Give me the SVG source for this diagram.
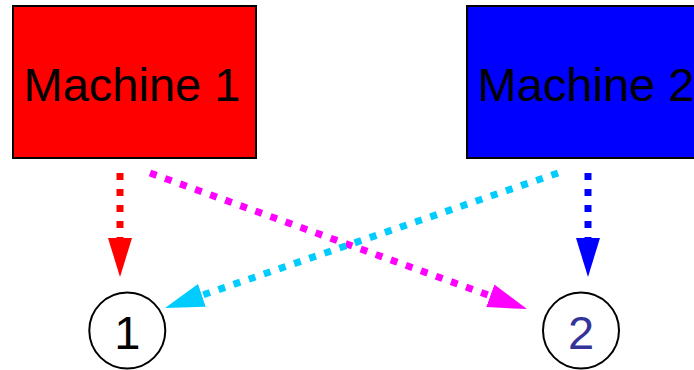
<svg xmlns="http://www.w3.org/2000/svg" width="694" height="370" viewBox="0 0 694 370">
<style>
.box{stroke:#000;stroke-width:2}
.lbl{font-family:"Liberation Sans",Arial,sans-serif;font-size:47px;text-anchor:middle}
.num{font-family:"Liberation Sans",Arial,sans-serif;font-size:47px;text-anchor:middle}
.circ{fill:#fff;stroke:#000;stroke-width:2}
.edge{fill:none;stroke-width:7;stroke-dasharray:7 9}
</style>
<defs>
<marker id="hr" markerUnits="userSpaceOnUse" markerWidth="40" markerHeight="26" refX="0" refY="12" orient="auto" viewBox="0 0 40 24"><polygon points="0,0 39,12 0,24" fill="#ff0000"/></marker>
<marker id="hb" markerUnits="userSpaceOnUse" markerWidth="40" markerHeight="26" refX="0" refY="12" orient="auto" viewBox="0 0 40 24"><polygon points="0,0 39,12 0,24" fill="#0000ff"/></marker>
<marker id="hm" markerUnits="userSpaceOnUse" markerWidth="40" markerHeight="26" refX="0" refY="12" orient="auto" viewBox="0 0 40 24"><polygon points="0,0 39,12 0,24" fill="#ff00ff"/></marker>
<marker id="hc" markerUnits="userSpaceOnUse" markerWidth="40" markerHeight="26" refX="0" refY="12" orient="auto" viewBox="0 0 40 24"><polygon points="0,0 39,12 0,24" fill="#00ccff"/></marker>
</defs>
<g id="machine1">
<rect class="box" x="13" y="6" width="243" height="152" fill="#ff0000"/>
<text class="lbl" x="132" y="101">Machine 1</text>
</g>
<g id="machine2">
<rect class="box" x="467" y="6" width="243" height="152" fill="#0000ff"/>
<text class="lbl" x="586" y="101">Machine 2</text>
</g>
<g id="node1">
<circle class="circ" cx="127.3" cy="330.5" r="38"/>
<text class="num" x="127.3" y="349" fill="#000">1</text>
</g>
<g id="node2">
<circle class="circ" cx="581" cy="330.5" r="38"/>
<text class="num" x="581" y="349" fill="#333399">2</text>
</g>
<g id="connectors">
<line class="edge" x1="120" y1="173" x2="120" y2="238" stroke="#ff0000" marker-end="url(#hr)"/>
<line class="edge" x1="588" y1="173" x2="588" y2="238" stroke="#0000ff" marker-end="url(#hb)"/>
<line class="edge" x1="150" y1="173" x2="490.3" y2="295.8" stroke="#ff00ff" marker-end="url(#hm)"/>
<line class="edge" x1="558" y1="173" x2="201.9" y2="295.3" stroke="#00ccff" marker-end="url(#hc)"/>
</g>
</svg>
